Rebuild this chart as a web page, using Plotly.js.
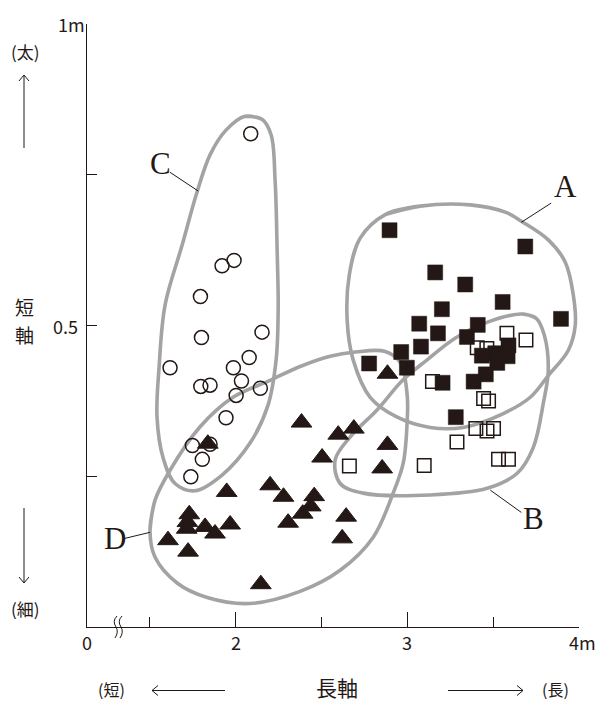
<!DOCTYPE html>
<html><head><meta charset="utf-8">
<script src="https://cdn.plot.ly/plotly-3.0.1.min.js"></script>
<style>html,body{margin:0;padding:0;background:#fff;}#chart{width:598px;height:702px;}</style>
</head><body><div id="chart"></div>
<script>
// ---- data: long axis (m) / short axis (m) ----
// A: filled squares
const groupA_long  = [2.896,3.687,3.162,3.337,3.555,3.201,3.895,3.069,3.410,3.178,3.347,3.079,2.964,2.777,2.997,3.589,3.584,3.512,3.434,3.524,3.457,3.386,3.205,3.282];
const groupA_short = [0.658,0.631,0.588,0.568,0.539,0.527,0.511,0.503,0.501,0.487,0.481,0.465,0.456,0.437,0.430,0.467,0.449,0.454,0.450,0.438,0.419,0.407,0.405,0.348];
// B: open squares
const groupB_long  = [2.662,3.098,3.146,3.289,3.399,3.464,3.502,3.444,3.473,3.531,3.589,3.580,3.691,3.407,3.463];
const groupB_short = [0.267,0.268,0.407,0.307,0.329,0.325,0.329,0.379,0.375,0.278,0.278,0.487,0.476,0.463,0.462];
// C: open circles
const groupC_long  = [2.087,1.920,1.990,1.794,1.800,2.153,1.617,2.078,1.986,1.796,1.850,2.033,2.002,2.143,1.943,1.747,1.850,1.805,1.738];
const groupC_short = [0.818,0.599,0.608,0.548,0.480,0.489,0.430,0.447,0.430,0.399,0.401,0.408,0.384,0.396,0.347,0.301,0.303,0.278,0.249];
// D: filled triangles
const groupD_long  = [1.837,2.383,2.597,2.688,2.503,1.947,2.200,2.278,2.457,2.437,2.390,2.305,2.643,2.620,1.729,1.718,1.714,1.821,1.879,1.967,1.605,1.722,2.146,2.884,2.884,2.853];
const groupD_short = [0.304,0.339,0.319,0.329,0.281,0.224,0.235,0.216,0.217,0.200,0.188,0.173,0.183,0.147,0.187,0.174,0.163,0.166,0.155,0.170,0.144,0.125,0.071,0.420,0.302,0.263];

// group outlines (boundary vertices, m)
const outlineA_long  = [2.871,3.075,3.366,3.570,3.669,3.821,3.920,3.967,3.978,3.938,3.821,3.716,3.559,3.325,3.133,2.941,2.783,2.684,2.649,2.661,2.725];
const outlineA_short = [0.684,0.698,0.700,0.688,0.672,0.642,0.605,0.550,0.500,0.459,0.417,0.381,0.354,0.331,0.331,0.348,0.381,0.443,0.509,0.583,0.645];
const outlineB_long  = [3.669,3.751,3.798,3.821,3.792,3.734,3.640,3.465,3.133,2.742,2.608,2.579,2.666,2.823,2.975,3.115,3.278,3.471];
const outlineB_short = [0.519,0.512,0.484,0.426,0.371,0.298,0.255,0.230,0.219,0.222,0.238,0.277,0.315,0.360,0.410,0.443,0.479,0.506];
const outlineC_long  = [2.054,2.153,2.206,2.229,2.241,2.247,2.235,2.188,2.083,1.920,1.763,1.646,1.576,1.541,1.553,1.588,1.687,1.774,1.850,1.943];
const outlineC_short = [0.847,0.842,0.816,0.741,0.625,0.526,0.443,0.368,0.305,0.252,0.226,0.238,0.281,0.348,0.431,0.534,0.633,0.721,0.783,0.824];
const outlineD_long  = [1.500,1.529,1.617,1.792,1.984,2.200,2.375,2.550,2.696,2.871,2.958,2.999,2.999,2.976,2.917,2.801,2.608,2.375,2.083,1.833,1.658,1.529];
const outlineD_short = [0.160,0.210,0.260,0.332,0.381,0.409,0.432,0.449,0.456,0.457,0.439,0.384,0.343,0.272,0.222,0.149,0.094,0.059,0.039,0.049,0.073,0.116];

const groupLabels = ['A','B','C','D'];
const xTickLabels = ['0','2','3','4m'];
const yTickLabels = ['1m','0.5'];

// ---- drawing ----
const INK = '#231815';
const GREY = '#a3a3a3';
const JP = '"Noto Sans CJK JP","Noto Sans",sans-serif';
const SERIF = '"Liberation Serif","DejaVu Serif",serif';

function loop(a){ return a.concat(a.slice(0,2)); }
function outlineTrace(xs, ys){
  return {x: loop(xs), y: loop(ys), mode:'lines', type:'scatter',
    line:{color:GREY, width:3.6, shape:'spline', smoothing:1}, hoverinfo:'skip', showlegend:false};
}
const traces = [
  outlineTrace(outlineA_long, outlineA_short),
  outlineTrace(outlineB_long, outlineB_short),
  outlineTrace(outlineC_long, outlineC_short),
  outlineTrace(outlineD_long, outlineD_short),
  {x:groupC_long, y:groupC_short, mode:'markers', type:'scatter', name:groupLabels[2],
   marker:{symbol:'circle-open', size:14, color:INK, line:{width:1.5, color:INK}}},
  {x:groupB_long, y:groupB_short, mode:'markers', type:'scatter', name:groupLabels[1],
   marker:{symbol:'square-open', size:13.5, color:INK, line:{width:1.5, color:INK}}},
  {x:groupA_long, y:groupA_short, mode:'markers', type:'scatter', name:groupLabels[0],
   marker:{symbol:'square', size:15, color:INK, line:{width:0.5, color:INK}}},
  {x:groupD_long, y:groupD_short, mode:'markers', type:'scatter', name:groupLabels[3],
   marker:{symbol:'triangle-up', size:18, color:INK, line:{width:1, color:INK}}}
];

// pixel -> paper helpers (layout only)
const L = 87, T = 24, W = 492, H = 603;
function px(X){ return (X - L) / W; }
function py(Y){ return (T + H - Y) / H; }
function pline(X1,Y1,X2,Y2,w){
  return {type:'line', xref:'paper', yref:'paper', x0:px(X1), y0:py(Y1), x1:px(X2), y1:py(Y2),
    line:{color:INK, width:w||1}};
}
function ppath(d){
  const s = d.map(c => c[0] + ' ' + c.slice(1).map((v,i)=> i%2===0 ? px(v).toFixed(5) : py(v).toFixed(5)).join(' ')).join(' ');
  return {type:'path', xref:'paper', yref:'paper', path:s, line:{color:INK, width:1}};
}
function dline(x0,y0,x1,y1){
  return {type:'line', xref:'x', yref:'y', x0:x0, y0:y0, x1:x1, y1:y1, line:{color:INK, width:1}};
}

const shapes = [
  pline(24,148,24,75), ppath([['M',19,81],['L',24,75],['L',29,81]]),
  pline(24,508,24,583), ppath([['M',19,577],['L',24,583],['L',29,577]]),
  pline(225,690.5,152,690.5), ppath([['M',158,685.5],['L',152,690.5],['L',158,695.5]]),
  pline(448,690.5,523,690.5), ppath([['M',517,685.5],['L',523,690.5],['L',517,695.5]]),
  ppath([['M',117,616],['Q',112,621,116,627],['Q',119,632,115,638]]),
  ppath([['M',122,616],['Q',117,621,121,627],['Q',124,632,120,638]]),
  dline(3.663,0.671,3.838,0.703),
  dline(3.483,0.227,3.664,0.190),
  dline(1.617,0.754,1.781,0.723),
  dline(1.354,0.147,1.500,0.157)
];

function ann(text, x, y, o){
  return Object.assign({text:text, x:x, y:y, xref:'paper', yref:'paper', showarrow:false,
    xanchor:'center', yanchor:'middle', borderpad:0, font:{family:JP, size:17, color:INK}}, o||{});
}
const tickFont = {family:JP, size:18, color:INK};
const bigFont = {family:JP, size:21, color:INK};
const capFont = {family:JP, size:16, color:INK};
const vFont = {family:JP, size:19, color:INK};
const serifFont = {family:SERIF, size:31, color:INK};
const annotations = [
  ann(xTickLabels[0], px(87), py(641.5), {font:tickFont}),
  ann(xTickLabels[1], 2, py(641.5), {xref:'x', font:tickFont}),
  ann(xTickLabels[2], 3, py(641.5), {xref:'x', font:tickFont}),
  ann(xTickLabels[3], 4, py(641.5), {xref:'x', xanchor:'left', xshift:-11, font:tickFont}),
  ann(yTickLabels[0], px(86), 1, {yref:'y', xanchor:'right', font:tickFont}),
  ann(yTickLabels[1], px(79), 0.5, {yref:'y', xanchor:'right', font:tickFont}),
  ann('(太)', px(25), py(51)),
  ann('短', px(24), py(306), {font:vFont}),
  ann('軸', px(24), py(334.5), {font:vFont}),
  ann('(細)', px(25), py(608)),
  ann('(短)', px(111), py(689), {font:capFont}),
  ann('長軸', px(337), py(687), {font:bigFont}),
  ann('(長)', px(555), py(689), {font:capFont}),
  ann(groupLabels[0], 3.920, 0.730, {xref:'x', yref:'y', font:serifFont}),
  ann(groupLabels[1], 3.736, 0.180, {xref:'x', yref:'y', font:serifFont}),
  ann(groupLabels[2], 1.559, 0.768, {xref:'x', yref:'y', font:serifFont}),
  ann(groupLabels[3], 1.294, 0.146, {xref:'x', yref:'y', font:serifFont})
];

const layout = {
  width:598, height:702,
  margin:{l:L, r:598-L-W, t:T, b:702-T-H, pad:0},
  paper_bgcolor:'#fff', plot_bgcolor:'rgba(0,0,0,0)',
  showlegend:false,
  xaxis:{range:[1.133,4.0], showgrid:false, zeroline:false, showline:true, linecolor:INK, linewidth:1,
    tickmode:'array', tickvals:[2,3,4], ticks:'inside', ticklen:15, tickwidth:1, tickcolor:INK,
    showticklabels:false, fixedrange:true,
    minor:{tickmode:'array', tickvals:[1.5,2.5,3.5], ticks:'inside', ticklen:10, tickwidth:1, tickcolor:INK, showgrid:false}},
  yaxis:{range:[0,1], showgrid:false, zeroline:false, showline:true, linecolor:INK, linewidth:1,
    tickmode:'array', tickvals:[1], ticks:'inside', ticklen:15, tickwidth:1, tickcolor:INK,
    showticklabels:false, fixedrange:true,
    minor:{tickmode:'array', tickvals:[0.25,0.5,0.75], ticks:'inside', ticklen:10, tickwidth:1, tickcolor:INK, showgrid:false}},
  shapes:shapes,
  annotations:annotations
};
Plotly.newPlot('chart', traces, layout, {displayModeBar:false, staticPlot:true});
</script></body></html>
